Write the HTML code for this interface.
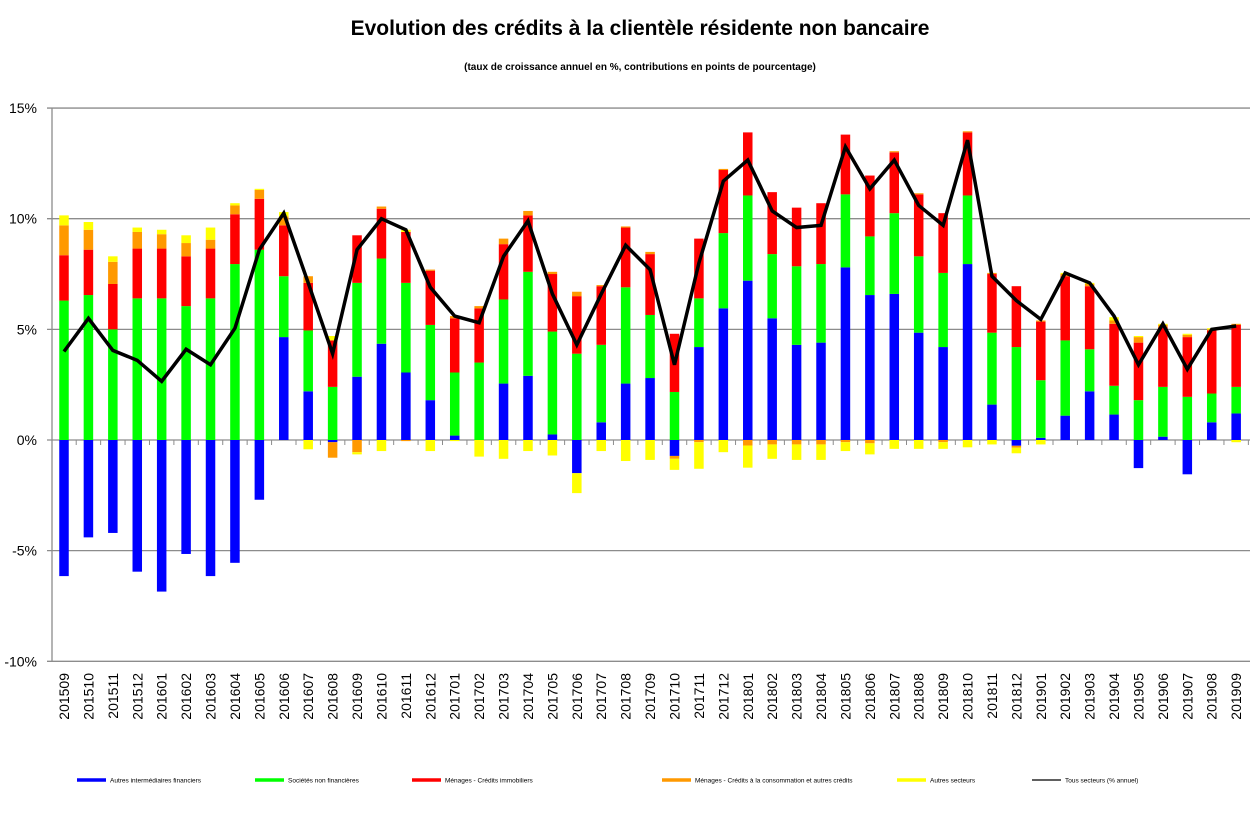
<!DOCTYPE html>
<html><head><meta charset="utf-8">
<style>
html,body{margin:0;padding:0;background:#fff;}
body{width:1260px;height:821px;overflow:hidden;font-family:"Liberation Sans",sans-serif;}
</style></head>
<body>
<svg id="chart" width="1260" height="821" xmlns="http://www.w3.org/2000/svg" font-family="Liberation Sans, sans-serif">
<text x="640" y="35" text-anchor="middle" font-size="21" font-weight="bold">Evolution  des crédits à la clientèle résidente non bancaire</text>
<text x="640" y="70" text-anchor="middle" font-size="10" font-weight="bold">(taux de croissance annuel en %, contributions en points de pourcentage)</text>
<g id="grid"></g><g id="bars"></g><g id="axes"></g><g id="line"></g><g id="legend"></g>
</svg>
<script>
const categories=["201509","201510","201511","201512","201601","201602","201603","201604","201605","201606","201607","201608","201609","201610","201611","201612","201701","201702","201703","201704","201705","201706","201707","201708","201709","201710","201711","201712","201801","201802","201803","201804","201805","201806","201807","201808","201809","201810","201811","201812","201901","201902","201903","201904","201905","201906","201907","201908","201909"];
const autresIntermediaires=[-6.15,-4.4,-4.2,-5.95,-6.85,-5.15,-6.15,-5.55,-2.7,4.65,2.2,-0.1,2.86,4.35,3.05,1.8,0.2,0,2.55,2.9,0.25,-1.5,0.8,2.55,2.8,-0.72,4.2,5.95,7.2,5.5,4.3,4.4,7.8,6.55,6.6,4.85,4.2,7.95,1.6,-0.26,0.1,1.1,2.2,1.15,-1.27,0.15,-1.55,0.8,1.2];
const societesNonFinancieres=[6.3,6.55,5.0,6.4,6.4,6.05,6.4,7.95,8.6,2.75,2.75,2.4,4.24,3.85,4.05,3.4,2.85,3.5,3.8,4.7,4.65,3.9,3.5,4.35,2.85,2.17,2.2,3.4,3.85,2.9,3.55,3.55,3.3,2.65,3.65,3.45,3.35,3.1,3.25,4.2,2.6,3.4,1.9,1.3,1.8,2.25,1.95,1.3,1.2];
const menagesImmobilier=[2.05,2.05,2.05,2.25,2.25,2.25,2.25,2.25,2.3,2.3,2.15,2.1,2.15,2.25,2.3,2.45,2.45,2.45,2.5,2.55,2.6,2.6,2.65,2.7,2.75,2.63,2.7,2.85,2.85,2.8,2.65,2.75,2.7,2.75,2.75,2.8,2.7,2.85,2.65,2.75,2.65,2.9,2.85,2.8,2.6,2.7,2.7,2.85,2.8];
const menagesConsommation=[1.35,0.9,1.0,0.75,0.65,0.6,0.4,0.4,0.4,0.4,0.3,-0.7,-0.55,0.1,-0.05,0.05,0.1,0.1,0.25,0.2,0.1,0.2,0.05,0.05,0.1,-0.13,-0.1,0.05,-0.25,-0.2,-0.2,-0.2,-0.1,-0.15,0.05,0.05,-0.1,0.05,0.05,-0.09,0.05,0.1,0.1,0.15,0.25,0.1,0.1,0.05,0.05];
const autresSecteurs=[0.45,0.35,0.25,0.2,0.2,0.35,0.55,0.1,0.05,0.2,-0.42,0.2,-0.1,-0.5,0.1,-0.5,-0.05,-0.75,-0.85,-0.5,-0.7,-0.9,-0.5,-0.95,-0.9,-0.5,-1.2,-0.55,-1.0,-0.65,-0.7,-0.7,-0.4,-0.5,-0.4,-0.4,-0.3,-0.33,-0.2,-0.25,-0.2,0.05,0.05,0.15,0.05,0.05,0.05,0.05,-0.1];
const totalAnnuel=[4.0,5.5,4.05,3.6,2.65,4.1,3.4,5.05,8.6,10.25,7.1,3.9,8.6,10.0,9.5,6.9,5.6,5.3,8.3,9.9,6.6,4.3,6.6,8.8,7.7,3.4,8.0,11.7,12.65,10.35,9.6,9.7,13.25,11.35,12.65,10.6,9.7,13.55,7.4,6.3,5.45,7.55,7.1,5.6,3.4,5.25,3.2,5.0,5.15];
const yTicks=[15,10,5,0,-5,-10];
const yTickLabels=["15%","10%","5%","0%","-5%","-10%"];
const seriesNames=["Autres intermédiaires financiers","Sociétés non financières","Ménages - Crédits immobiliers","Ménages - Crédits à la consommation et autres crédits","Autres secteurs","Tous secteurs (% annuel)"];

const NS="http://www.w3.org/2000/svg";
const Y0=440, PXPERPCT=22.13, X0=64, STEP=24.42, BW=9.5, LEFT=52, RIGHT=1250;
function yScale(v){return Y0-v*PXPERPCT;}
function xScale(i){return X0+i*STEP;}
function mk(tag,attrs,parent){const e=document.createElementNS(NS,tag);for(const k in attrs)e.setAttribute(k,attrs[k]);parent.appendChild(e);return e;}

const grid=document.getElementById('grid'),axes=document.getElementById('axes'),barsG=document.getElementById('bars'),lineG=document.getElementById('line'),legG=document.getElementById('legend');
yTicks.forEach((t,k)=>{
  const y=yScale(t);
  const gl=mk('line',{x1:LEFT-5,x2:RIGHT,y1:y,y2:y,stroke:'#8c8c8c','stroke-width':1.3},grid);
  
  
  const tl=mk('text',{x:37,y:y+5,'text-anchor':'end','font-size':14},axes);
  tl.textContent=yTickLabels[k];
  
  
});
const ya=mk('line',{x1:LEFT,x2:LEFT,y1:yScale(15),y2:yScale(-10),stroke:'#8c8c8c','stroke-width':1.3},axes);



const colors=['#0000ff','#00ff00','#ff0000','#ff9900','#ffff00'];
const series=[autresIntermediaires,societesNonFinancieres,menagesImmobilier,menagesConsommation,autresSecteurs];
const segNames=['bar-autres-intermediaires','bar-societes','bar-menages-immobilier','bar-menages-consommation','bar-autres-secteurs'];
categories.forEach((c,i)=>{
  let pos=0,neg=0;const x=xScale(i);
  series.forEach((s,j)=>{
    const v=s[i];if(!v)return;let a,b;
    if(v>0){a=pos;b=pos+v;pos=b;}else{a=neg;b=neg+v;neg=b;}
    const y1=yScale(Math.max(a,b)),y2=yScale(Math.min(a,b));
    const r=mk('rect',{x:x-BW/2,y:y1,width:BW,height:Math.max(0.5,y2-y1),fill:colors[j]},barsG);
    
    
  });
  const tk=mk('line',{x1:x+STEP/2,x2:x+STEP/2,y1:Y0,y2:Y0+5,stroke:'#8c8c8c','stroke-width':1},axes);
  
  
  const lb=mk('text',{x:0,y:0,'text-anchor':'end','font-size':14,transform:`translate(${x+5},673) rotate(-90)`},axes);
  lb.textContent=c;
  
  
});
const pts=totalAnnuel.map((v,i)=>xScale(i)+','+yScale(v)).join(' ');
const pl=mk('polyline',{points:pts,fill:'none',stroke:'#000','stroke-width':3.5,'stroke-linejoin':'miter'},lineG);



const legX=[77,255,412,662,897,1032];
const legColors=['#0000ff','#00ff00','#ff0000','#ff9900','#ffff00','#000'];
seriesNames.forEach((n,k)=>{
  const g=mk('g',{},legG);
  
  
  mk('line',{x1:legX[k],x2:legX[k]+29,y1:780,y2:780,stroke:legColors[k],'stroke-width':k==5?1.2:3.5},g);
  const t=mk('text',{x:legX[k]+33,y:782.5,'font-size':6.5},g);
  t.textContent=n;
});
</script>
</body></html>
